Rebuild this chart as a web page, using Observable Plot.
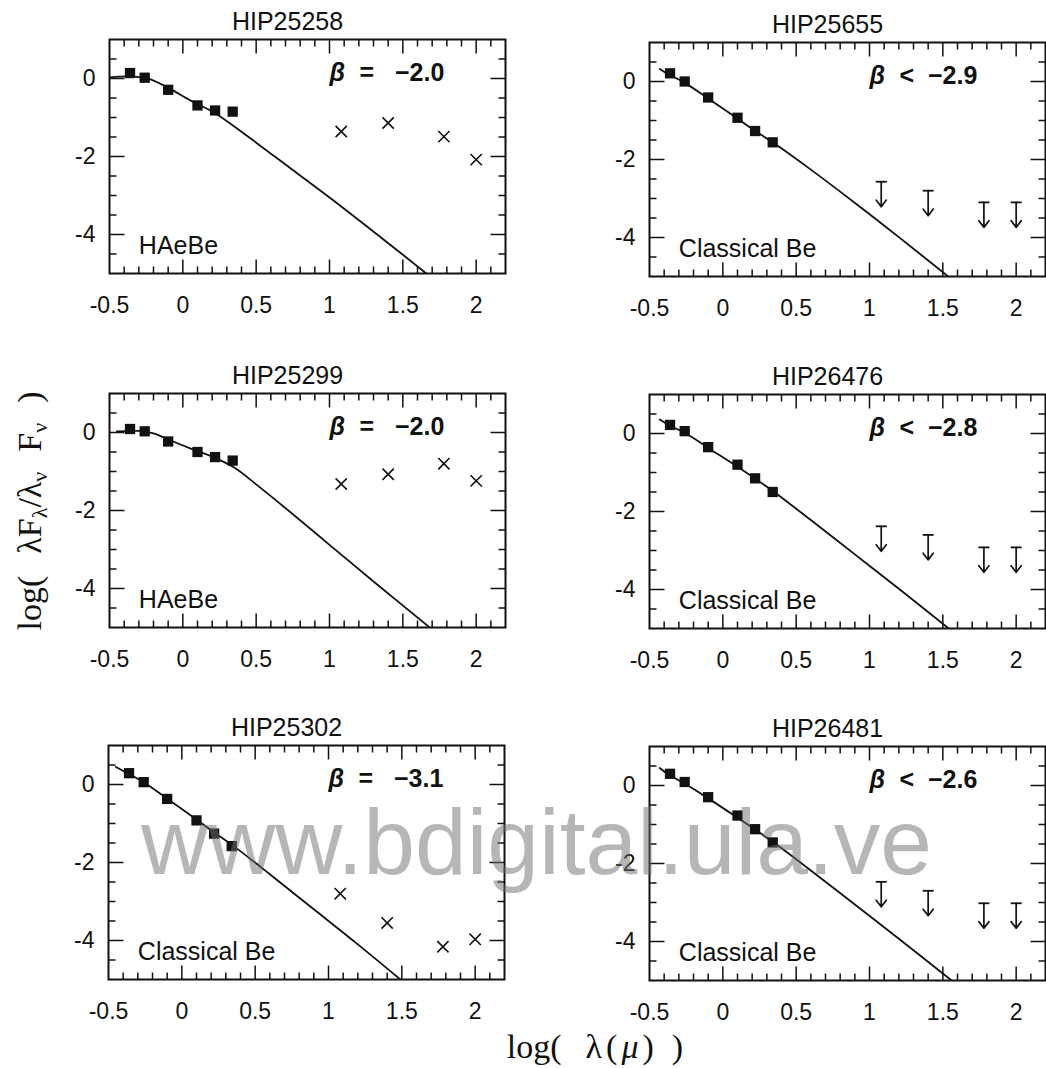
<!DOCTYPE html>
<html><head><meta charset="utf-8">
<script src="https://cdn.jsdelivr.net/npm/d3@7"></script>
<script src="https://cdn.jsdelivr.net/npm/@observablehq/plot@0.6"></script>
<style>
html,body{margin:0;padding:0;background:#fff;}
.serif{font-family:"Liberation Serif","DejaVu Serif",serif;font-size:34px;color:#111;white-space:nowrap;position:absolute;line-height:34px;}
.ytitle{left:30px;top:511px;transform:translate(-50%,-50%) rotate(-90deg);}
.xtitle{left:595px;top:1030px;transform:translateX(-50%);}
.serif sub{font-size:22px;vertical-align:-6px;line-height:0;}
.wm{position:absolute;left:141px;top:796px;font-family:"Liberation Sans",Arial,sans-serif;font-size:93px;line-height:93px;color:rgba(110,110,110,0.5);white-space:nowrap;pointer-events:none;}
</style></head><body><div id="root" style="position:relative;width:1046px;height:1068px"></div>
<script>
// ---- data ----
const stars = ["HIP25258", "HIP25655", "HIP25299", "HIP26476", "HIP25302", "HIP26481"];
const classes = ["HAeBe", "Classical Be", "HAeBe", "Classical Be", "Classical Be", "Classical Be"];
const betaRel = ["=", "<", "=", "<", "=", "<"];
const betaVal = ["−2.0", "−2.9", "−2.0", "−2.8", "−3.1", "−2.6"];
const irIsLimit = [false, true, false, true, false, true];

// log(lambda) of optical/near-IR bands and IRAS bands
const optX = [-0.36, -0.26, -0.10, 0.10, 0.22, 0.34];
const irX = [1.08, 1.40, 1.78, 2.00];

const opt_HIP25258 = [0.14, 0.02, -0.29, -0.69, -0.82, -0.85];
const opt_HIP25655 = [0.21, 0.00, -0.41, -0.93, -1.27, -1.56];
const opt_HIP25299 = [0.09, 0.03, -0.23, -0.50, -0.63, -0.72];
const opt_HIP26476 = [0.22, 0.06, -0.35, -0.80, -1.15, -1.50];
const opt_HIP25302 = [0.29, 0.06, -0.37, -0.92, -1.26, -1.58];
const opt_HIP26481 = [0.30, 0.09, -0.30, -0.77, -1.12, -1.46];

const ir_HIP25258 = [-1.36, -1.14, -1.49, -2.08];
const ir_HIP25655 = [-2.57, -2.80, -3.10, -3.10];
const ir_HIP25299 = [-1.32, -1.07, -0.80, -1.24];
const ir_HIP26476 = [-2.38, -2.60, -2.92, -2.92];
const ir_HIP25302 = [-2.80, -3.55, -4.16, -3.97];
const ir_HIP26481 = [-2.47, -2.70, -3.02, -3.02];

const model_HIP25258 = [[-0.5,0.03],[-0.35,0.05],[-0.23,-0.01],[-0.1,-0.24],[0.06,-0.58],[0.22,-0.89],[0.43,-1.45],[0.74,-2.32],[1.08,-3.28],[1.42,-4.28],[1.66,-5.0]];
const model_HIP25655 = [[-0.43,0.32],[-0.37,0.18],[-0.27,-0.01],[-0.11,-0.41],[0.08,-0.9],[0.21,-1.24],[0.34,-1.56],[0.6,-2.26],[0.91,-3.14],[1.2,-3.99],[1.54,-5.01]];
const model_HIP25299 = [[-0.45,0.03],[-0.3,0.04],[-0.2,-0.02],[-0.1,-0.18],[0.08,-0.45],[0.2,-0.62],[0.35,-0.9],[0.5,-1.33],[0.7,-1.94],[1.0,-2.88],[1.3,-3.82],[1.69,-5.02]];
const model_HIP26476 = [[-0.43,0.36],[-0.36,0.2],[-0.25,0.0],[-0.1,-0.37],[0.09,-0.83],[0.22,-1.16],[0.35,-1.5],[0.6,-2.22],[0.9,-3.1],[1.2,-3.98],[1.54,-5.0]];
const model_HIP25302 = [[-0.45,0.45],[-0.36,0.27],[-0.25,0.03],[-0.09,-0.39],[0.1,-0.9],[0.22,-1.23],[0.36,-1.6],[0.6,-2.3],[0.9,-3.2],[1.2,-4.1],[1.49,-5.0]];
const model_HIP26481 = [[-0.43,0.45],[-0.37,0.28],[-0.26,0.05],[-0.1,-0.33],[0.09,-0.8],[0.22,-1.13],[0.35,-1.47],[0.6,-2.18],[0.9,-3.05],[1.2,-3.93],[1.56,-5.0]];

const optY = [opt_HIP25258, opt_HIP25655, opt_HIP25299, opt_HIP26476, opt_HIP25302, opt_HIP26481];
const irY = [ir_HIP25258, ir_HIP25655, ir_HIP25299, ir_HIP26476, ir_HIP25302, ir_HIP26481];
const models = [model_HIP25258, model_HIP25655, model_HIP25299, model_HIP26476, model_HIP25302, model_HIP26481];

// axis ticks
const xTickLabels = [-0.5, 0, 0.5, 1, 1.5, 2];
const yTickLabels = [0, -2, -4];
const xMajor = [0, 0.5, 1, 1.5, 2];
const xMinor = [-0.4,-0.3,-0.2,-0.1,0.1,0.2,0.3,0.4,0.6,0.7,0.8,0.9,1.1,1.2,1.3,1.4,1.6,1.7,1.8,1.9,2.1];
const yMajor = [0, -2, -4];
const yMinor = [0.5, -0.5, -1, -1.5, -2.5, -3, -3.5, -4.5];
const X0 = -0.5, X1 = 2.2, Y0 = -5, Y1 = 1;

// ---- layout ----
const FW = 396, FH = 234, ML = 62, MT = 34, MB = 50;
const frameLeft = [109, 649, 109, 649, 108, 649];
const frameTop = [39, 42, 393, 394, 745, 746];
const marginRight = [12, 1, 12, 1, 12, 1];
const INK = "#111";
const pxX = (X1 - X0) / FW, pxY = (Y1 - Y0) / FH; // data units per pixel

const barSymbol = {draw(ctx) { ctx.moveTo(-5.5, 0); ctx.lineTo(5.5, 0); }};

function tickRows() {
  const rows = [];
  xMajor.forEach(v => { rows.push({x1: v, x2: v, y1: Y0, y2: Y0 + 14 * pxY}); rows.push({x1: v, x2: v, y1: Y1, y2: Y1 - 14 * pxY}); });
  xMinor.forEach(v => { rows.push({x1: v, x2: v, y1: Y0, y2: Y0 + 7 * pxY}); rows.push({x1: v, x2: v, y1: Y1, y2: Y1 - 7 * pxY}); });
  yMajor.forEach(v => { rows.push({x1: X0, x2: X0 + 15 * pxX, y1: v, y2: v}); rows.push({x1: X1, x2: X1 - 15 * pxX, y1: v, y2: v}); });
  yMinor.forEach(v => { rows.push({x1: X0, x2: X0 + 7 * pxX, y1: v, y2: v}); rows.push({x1: X1, x2: X1 - 7 * pxX, y1: v, y2: v}); });
  return rows;
}

function baseOptions(i, withAxes) {
  const mr = marginRight[i];
  return {
    width: ML + FW + mr, height: MT + FH + MB,
    marginLeft: ML, marginRight: mr, marginTop: MT, marginBottom: MB,
    x: withAxes ? {domain: [X0, X1], label: null} : {domain: [X0, X1], label: null, axis: null},
    y: withAxes ? {domain: [Y0, Y1], label: null} : {domain: [Y0, Y1], label: null, axis: null},
    style: {fontFamily: "'Liberation Sans', Arial, sans-serif", fontSize: "23px", color: INK, background: "transparent", overflow: "visible"}
  };
}

// layer 1: data (model curve, photometry, IRAS points, annotations)
function dataPanel(i) {
  const sq = optX.map((x, k) => ({x, y: optY[i][k]}));
  const ir = irX.map((x, k) => ({x, y: irY[i][k]}));
  const marks = [
    Plot.line(models[i], {x: d => d[0], y: d => d[1], curve: "catmull-rom", clip: true, stroke: INK, strokeWidth: 1.8}),
    Plot.dot(sq, {x: "x", y: "y", symbol: "square", r: 5.8, fill: INK})
  ];
  if (irIsLimit[i]) {
    marks.push(Plot.arrow(ir, {x1: "x", y1: "y", x2: "x", y2: d => d.y - 0.64, stroke: INK, strokeWidth: 1.7, headLength: 10, headAngle: 75}));
    marks.push(Plot.dot(ir, {x: "x", y: "y", symbol: barSymbol, r: 4, fill: "none", stroke: INK, strokeWidth: 1.8}));
  } else {
    marks.push(Plot.dot(ir, {x: "x", y: "y", symbol: "times", r: 5.2, stroke: INK, strokeWidth: 1.6}));
  }
  const gap = betaRel[i] === "=" ? "\u00a0\u00a0\u00a0" : "\u00a0\u00a0";
  marks.push(
    Plot.text([classes[i]], {x: -0.3, y: -4.3, text: d => d, textAnchor: "start", lineAnchor: "middle", fontSize: 25, fill: INK}),
    Plot.text(["β"], {x: 1.0, y: 0.15, text: d => d, textAnchor: "start", lineAnchor: "middle", fontSize: 25, fontStyle: "italic", fontWeight: "bold", fill: INK}),
    Plot.text([betaRel[i] + gap + betaVal[i]], {x: 1.0, y: 0.15, dx: 30, text: d => d, textAnchor: "start", lineAnchor: "middle", fontSize: 25, fontWeight: "bold", fill: INK})
  );
  return Plot.plot({...baseOptions(i, false), marks});
}

// layer 2: frame, inward ticks, tick labels, panel title
function framePanel(i) {
  return Plot.plot({...baseOptions(i, true), marks: [
    Plot.axisX(xTickLabels, {tickSize: 0, tickPadding: 23, tickFormat: d => String(d), fontSize: 23, label: null}),
    Plot.axisY(yTickLabels, {tickSize: 0, tickPadding: 14, tickFormat: d => String(d), fontSize: 23, label: null}),
    Plot.text([stars[i]], {frameAnchor: "top", dy: -18, dx: -20, text: d => d, fontSize: 25, lineAnchor: "middle", fill: INK}),
    Plot.frame({stroke: INK, strokeWidth: 2}),
    Plot.link(tickRows(), {x1: "x1", y1: "y1", x2: "x2", y2: "y2", stroke: INK, strokeWidth: 1.5})
  ]});
}

const root = document.getElementById("root");
function place(svg, i) {
  const div = document.createElement("div");
  div.style.position = "absolute";
  div.style.left = (frameLeft[i] - ML) + "px";
  div.style.top = (frameTop[i] - MT) + "px";
  div.style.width = (ML + FW + marginRight[i]) + "px";
  div.style.height = (MT + FH + MB) + "px";
  div.appendChild(svg);
  root.appendChild(div);
}
stars.forEach((s, i) => {
  place(dataPanel(i), i);
  place(framePanel(i), i);
});

const yt = document.createElement("div");
yt.className = "serif ytitle";
yt.innerHTML = 'log(<span style="margin-left:22px">λF<sub>λ</sub>/λ<sub>ν</sub></span><span style="margin-left:20px">F<sub>ν</sub></span><span style="margin-left:20px">)</span>';
root.appendChild(yt);

const xt = document.createElement("div");
xt.className = "serif xtitle";
xt.innerHTML = 'log(<span style="margin-left:24px;letter-spacing:4px">λ(<i>μ</i>)</span><span style="margin-left:14px">)</span>';
root.appendChild(xt);

const wm = document.createElement("div");
wm.className = "wm";
wm.textContent = "www.bdigital.ula.ve";
root.appendChild(wm);
</script>
</body></html>
